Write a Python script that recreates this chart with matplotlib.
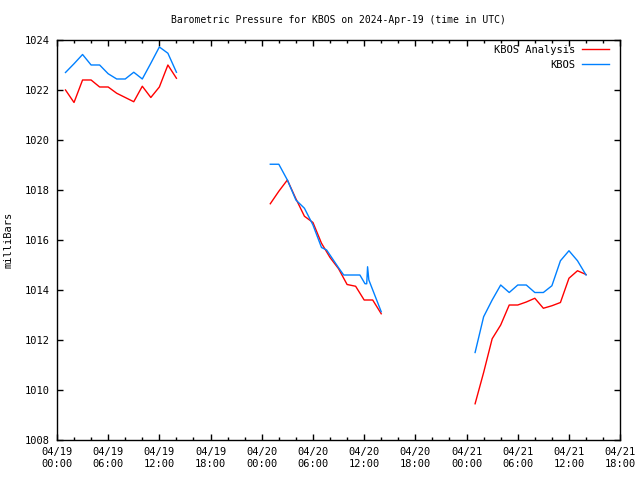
import datetime as dt
import numpy as np
import matplotlib
matplotlib.use("Agg")
import matplotlib.pyplot as plt
import matplotlib.dates as mdates

# data: hours after 2024-04-19 00:00 UTC, NaN breaks the line
t0 = dt.datetime(2024, 4, 19, 0, 0)

analysis_hours = [1, 2, 3, 4, 5, 6, 7, 8, 9, 10, 11, 12, 13, 14, 15,
                  25, 26, 27, 28, 29, 30, 31, 32, 33, 34, 35, 36, 37, 38, 39,
                  49, 50, 51, 52, 53, 54, 55, 56, 57, 58, 59, 60, 61, 62]
analysis_mb = [1022.0, 1021.5, 1022.4, 1022.4, 1022.12, 1022.12, 1021.87, 1021.7,
               1021.53, 1022.15, 1021.7, 1022.12, 1023.0, 1022.47, np.nan,
               1017.45, 1017.95, 1018.4, 1017.65, 1016.95, 1016.7, 1015.87, 1015.3,
               1014.85, 1014.22, 1014.15, 1013.6, 1013.6, 1013.05, np.nan,
               1009.45, 1010.7, 1012.05, 1012.6, 1013.4, 1013.4, 1013.52, 1013.67,
               1013.27, 1013.37, 1013.5, 1014.47, 1014.77, 1014.62]

obs_hours = [1, 2, 3, 4, 5, 6, 7, 8, 9, 10, 11, 12, 13, 14, 15,
             25, 26, 27, 28, 29, 30, 31, 31.6, 33, 33.6, 35.5, 36.1, 36.3, 36.4, 36.55, 38, 39,
             49, 50, 51, 52, 53, 54, 55, 56, 57, 58, 59, 60, 61, 62]
obs_mb = [1022.7, 1023.05, 1023.42, 1023.0, 1023.0, 1022.65, 1022.44, 1022.44,
          1022.71, 1022.44, 1023.07, 1023.72, 1023.47, 1022.71, np.nan,
          1019.03, 1019.03, 1018.4, 1017.6, 1017.27, 1016.6, 1015.7, 1015.6,
          1014.89, 1014.6, 1014.6, 1014.25, 1014.25, 1014.93, 1014.4, 1013.13, np.nan,
          1011.5, 1012.93, 1013.6, 1014.2, 1013.9, 1014.2, 1014.2, 1013.9, 1013.9,
          1014.17, 1015.17, 1015.57, 1015.17, 1014.6]

analysis_t = [t0 + dt.timedelta(hours=h) for h in analysis_hours]
obs_t = [t0 + dt.timedelta(hours=h) for h in obs_hours]

plt.rcParams['font.family'] = 'DejaVu Sans Mono'
plt.rcParams['font.size'] = 7.5

fig = plt.figure(figsize=(6.4, 4.8), dpi=100)
ax = fig.add_axes([0.089, 0.0833, 0.880, 0.8334])

ax.plot(analysis_t, analysis_mb, color='#ff0000', lw=1, label='KBOS Analysis')
ax.plot(obs_t, obs_mb, color='#0080ff', lw=1, label='KBOS')

ax.set_xlim(t0, t0 + dt.timedelta(hours=66))
ax.set_ylim(1008, 1024)
ax.set_yticks(np.arange(1008, 1025, 2))
ax.xaxis.set_major_locator(mdates.HourLocator(byhour=range(0, 24, 6)))
ax.xaxis.set_minor_locator(mdates.HourLocator(byhour=range(0, 24, 2)))
ax.xaxis.set_major_formatter(mdates.DateFormatter('%m/%d\n%H:%M'))
ax.tick_params(which='both', direction='in', top=True, right=True, width=1)
ax.tick_params(which='major', length=4.5, pad=5)
ax.tick_params(which='minor', length=2.5)
for s in ax.spines.values():
    s.set_linewidth(1)

ax.set_title('Barometric Pressure for KBOS on 2024-Apr-19 (time in UTC)', fontsize=7, pad=12)
ax.set_ylabel('milliBars', labelpad=8)

leg = ax.legend(loc='upper right', bbox_to_anchor=(0.988, 1.0), frameon=False,
                markerfirst=False, handlelength=2.6, borderaxespad=0.05,
                labelspacing=0.5, handletextpad=0.6)

fig.savefig('out.png', dpi=100)
